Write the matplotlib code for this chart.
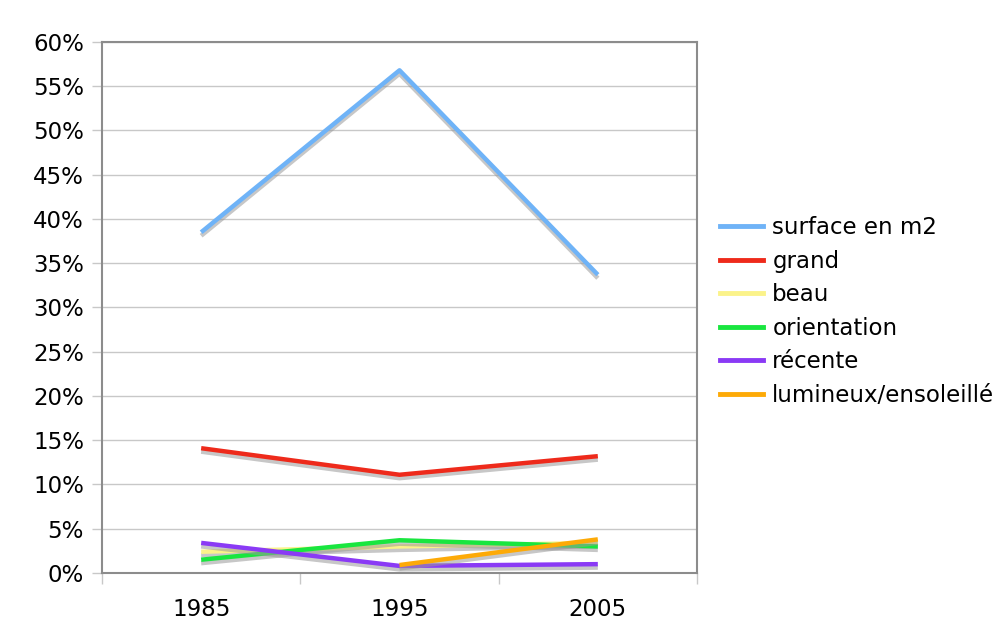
import matplotlib
matplotlib.use("Agg")
import matplotlib.pyplot as plt
import matplotlib.patheffects as pe
from matplotlib.lines import Line2D
from matplotlib.ticker import FixedLocator, PercentFormatter

years = ["1985", "1995", "2005"]
surface = [38.5, 56.8, 33.7]
grand = [14.1, 11.1, 13.2]
beau = [2.4, 3.0, 3.4]
orientation = [1.5, 3.7, 3.0]
recente = [3.4, 0.8, 1.0]
lumineux = [None, 0.9, 3.8]

series = [
    ("surface en m2", surface, "#6fb3f7"),
    ("grand", grand, "#ee2a1b"),
    ("beau", beau, "#fbf38a"),
    ("orientation", orientation, "#19e63f"),
    ("récente", recente, "#8a3af5"),
    ("lumineux/ensoleillé", lumineux, "#fdaa07"),
]

FS = 16.5

fig = plt.figure(figsize=(9.98, 6.39), dpi=100)
ax = fig.add_axes([0.1022, 0.1033, 0.5962, 0.831])

x = list(range(len(years)))
shadow = [pe.SimpleLineShadow(offset=(0, -2.5), shadow_color="#999999", alpha=0.55), pe.Normal()]
handles = []
for name, vals, col in series:
    xs = [xi for xi, v in zip(x, vals) if v is not None]
    ys = [v for v in vals if v is not None]
    ax.plot(xs, ys, color=col, lw=3.2, path_effects=shadow, solid_capstyle="butt", zorder=3)
    handles.append(Line2D([], [], color=col, lw=3.5, label=name))

ax.set_xlim(-0.5, 2.5)
ax.set_ylim(0, 60)
ax.yaxis.set_major_locator(FixedLocator(range(0, 61, 5)))
ax.yaxis.set_major_formatter(PercentFormatter(decimals=0))
ax.grid(axis="y", color="#c8c8c8", lw=1)
ax.set_axisbelow(True)

ax.xaxis.set_major_locator(FixedLocator([-0.5, 0.5, 1.5, 2.5]))
ax.xaxis.set_major_formatter(plt.NullFormatter())
ax.xaxis.set_minor_locator(FixedLocator(x))
ax.set_xticklabels(years, minor=True)
ax.tick_params(axis="x", which="major", length=8, color="#c8c8c8", width=1)
ax.tick_params(axis="x", which="minor", length=0, pad=18, labelsize=FS)
ax.tick_params(axis="y", length=7, color="#c8c8c8", width=1, labelsize=FS, pad=6)

for s in ax.spines.values():
    s.set_color("#8c8c8c")
    s.set_linewidth(1.5)

fig.legend(handles=handles, loc="upper left", bbox_to_anchor=(0.721, 0.662), frameon=False,
           fontsize=FS, handlelength=1.9, handletextpad=0.4, labelspacing=0.46,
           borderaxespad=0, borderpad=0)

fig.savefig("out.png", dpi=100)
